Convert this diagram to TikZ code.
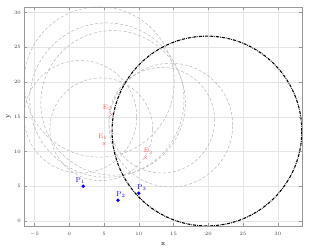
\documentclass[tikz,border=0pt]{standalone}
\usepackage{tikz}
\usetikzlibrary{positioning}
\definecolor{ptblue}{RGB}{0,0,255}
\definecolor{estred}{RGB}{235,50,50}
\definecolor{estlabelred}{RGB}{245,90,90}
\begin{document}
\begin{tikzpicture}[
    x=6.95pt, y=6.95pt,
    gridline/.style={draw=black!10, line width=0.4pt},
    axisbox/.style={draw=black!40, line width=0.7pt},
    ticklabel/.style={font=\fontsize{5}{6}\selectfont, text=black!75, inner sep=1pt},
    guess/.style={draw=black!30, dash pattern=on 3pt off 2pt, line width=0.45pt},
    bound/.style={draw=black, line width=1.1pt, dash pattern=on 3pt off 1pt on 0.7pt off 1pt},
    anchorpt/.style={circle, fill=ptblue, inner sep=0pt, minimum size=3.8pt},
    estpt/.style={inner sep=0pt, text=estred, font=\fontsize{6}{6}\selectfont},
    ptlabel/.style={text=ptblue, font=\fontsize{7}{7}\selectfont, inner sep=0pt},
    estlabel/.style={text=estlabelred, font=\fontsize{6.5}{6.5}\selectfont, inner sep=0pt}
  ]
    \useasboundingbox (-9.97,-3.885) rectangle (35.2,31.8);

    % Grid
    \foreach \gx in {-5,0,...,30}
      \draw[gridline] (\gx,-0.7) -- (\gx,30.8);
    \foreach \gy in {0,5,...,30}
      \draw[gridline] (-6.5,\gy) -- (33.5,\gy);

    % Candidate circles
    \draw[guess] (4.3,20.0) circle[radius=10.8];
    \draw[guess] (5.4,17.4) circle[radius=11.1];
    \draw[guess] (6.3,17.0) circle[radius=10.4];
    \draw[guess] (1.6,15.0) circle[radius=8.1];
    \draw[guess] (4.6,13.2) circle[radius=7.4];
    \draw[guess] (14.6,13.8) circle[radius=8.9];
    \draw[guess] (13.3,14.5) circle[radius=7.6];

    % Bounding circle
    \draw[bound] (19.8,12.95) circle[radius=13.65];

    % Axes
    \draw[axisbox] (-6.5,-0.7) rectangle (33.5,30.8);
    \foreach \gx in {-5,0,...,30} {
      \draw[axisbox, line width=0.4pt] (\gx,-0.7) -- ++(0,0.4);
      \draw[axisbox, line width=0.4pt] (\gx,30.8) -- ++(0,-0.4);
      \node[ticklabel] at (\gx,-1.9) {$\gx$};
    }
    \foreach \gy in {0,5,...,30} {
      \draw[axisbox, line width=0.4pt] (-6.5,\gy) -- ++(0.4,0);
      \draw[axisbox, line width=0.4pt] (33.5,\gy) -- ++(-0.4,0);
      \node[ticklabel, anchor=east] at (-6.8,\gy) {$\gy$};
    }
    \node[font=\fontsize{7}{7}\selectfont] (xlab) at (13.5,-3.3) {x};
    \node[font=\fontsize{7}{7}\selectfont, rotate=90] (ylab) at (-8.7,15.1) {y};

    % Anchor points
    \node[anchorpt] (p1) at (2,5) {};
    \node[anchorpt] (p2) at (7,3) {};
    \node[anchorpt] (p3) at (10,4) {};
    \node[ptlabel, above=0.5pt of p1, xshift=-3pt] (p1lab) {P$_1$};
    \node[ptlabel, above=0pt of p2, xshift=3pt] (p2lab) {P$_2$};
    \node[ptlabel, above=0pt of p3, xshift=3pt] (p3lab) {P$_3$};

    % Estimates
    \node[estpt] (e1) at (5.04,11.05) {$\times$};
    \node[estpt] (e2) at (6.1,15.2) {$\times$};
    \node[estpt] (e3) at (11.0,9.1) {$\times$};
    \node[estlabel, above=2pt of e1, xshift=-1.5pt] (e1lab) {E$_1$};
    \node[estlabel, above=2pt of e2, xshift=-4.5pt] (e2lab) {E$_2$};
    \node[estlabel, above=1pt of e3, xshift=2.5pt] (e3lab) {E$_3$};
  \end{tikzpicture}
\end{document}
